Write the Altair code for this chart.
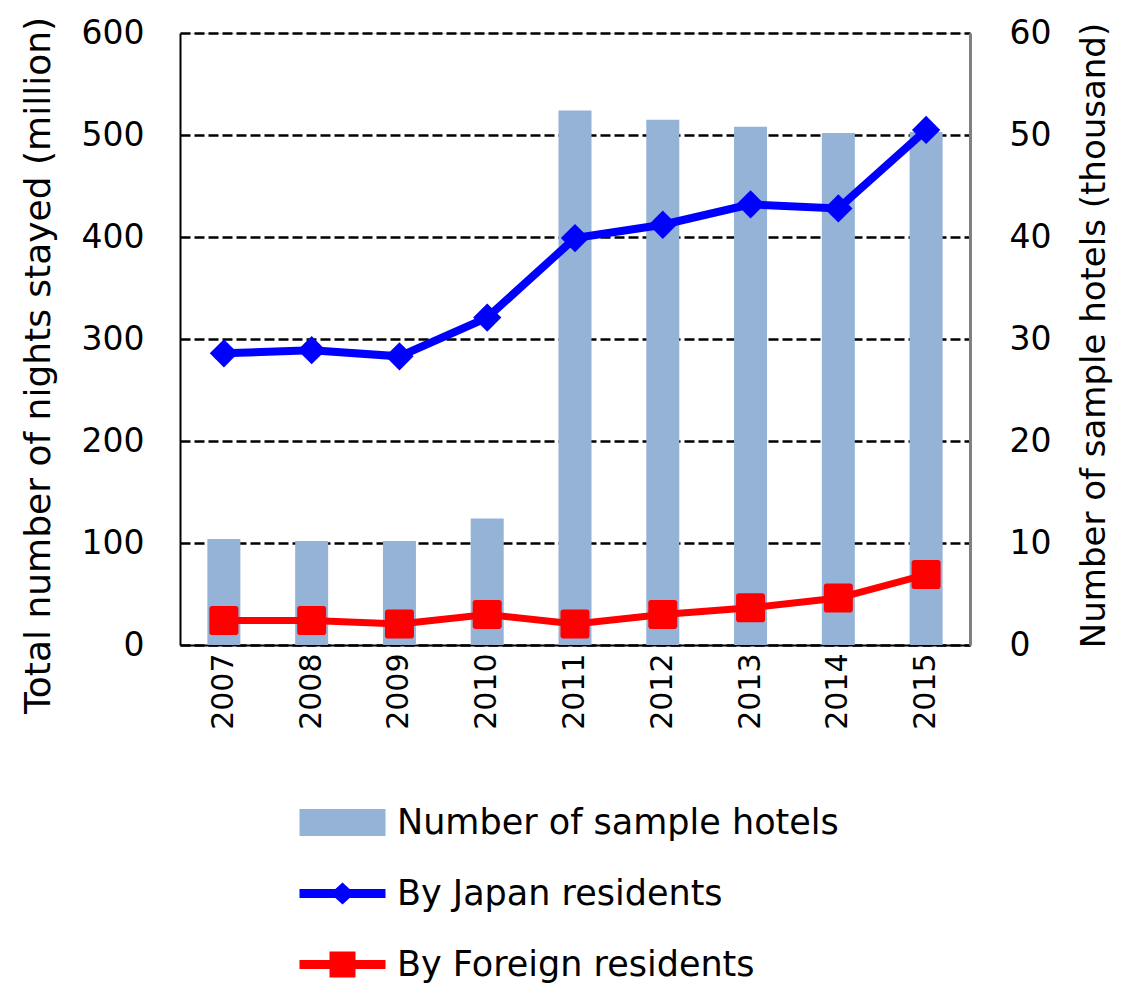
import altair as alt
import pandas as pd

years = ["2007", "2008", "2009", "2010", "2011", "2012", "2013", "2014", "2015"]
hotels = [10.4, 10.2, 10.2, 12.4, 52.4, 51.5, 50.8, 50.2, 50.3]
japan = [286, 289, 283, 321, 399, 412, 432, 428, 505]
foreign = [24, 24, 20.5, 30, 20.5, 30, 36.5, 46, 69]

legend_names = ["Number of sample hotels", "By Japan residents", "By Foreign residents"]
legend_colors = ["#95B3D7", "#0000FF", "#FF0000"]
legend_paths = [
    "M-4.3,-1.35H4.3V1.35H-4.3Z",
    "M-4.3,-0.45L-0.71,-0.45L0,-1.1L0.71,-0.45L4.3,-0.45L4.3,0.45L0.71,0.45L0,1.1L-0.71,0.45L-4.3,0.45Z",
    "M-4.3,-0.45L-1.3,-0.45L-1.3,-1.3L1.3,-1.3L1.3,-0.45L4.3,-0.45L4.3,0.45L1.3,0.45L1.3,1.3L-1.3,1.3L-1.3,0.45L-4.3,0.45Z",
]
rounded_square = ("M-0.82,-1H0.82A0.18,0.18 0 0 1 1,-0.82V0.82A0.18,0.18 0 0 1 0.82,1"
                  "H-0.82A0.18,0.18 0 0 1 -1,0.82V-0.82A0.18,0.18 0 0 1 -0.82,-1Z")

df = pd.DataFrame({"year": years, "hotels": hotels, "japan": japan, "foreign": foreign})
df_leg = pd.DataFrame({"name": legend_names})

FONT = "DejaVu Sans"

x_enc = alt.X(
    "year:O",
    title=None,
    scale=alt.Scale(paddingInner=0, paddingOuter=0),
    axis=alt.Axis(
        labelAngle=270, labelAlign="right", labelBaseline="middle",
        labelPadding=8, ticks=False, labelFontSize=30, labelFont=FONT,
        labelColor="black", domainColor="black", domainWidth=2,
    ),
)

left_axis = alt.Axis(
    orient="left", values=[0, 100, 200, 300, 400, 500, 600],
    grid=True, gridDash=[10, 4], gridColor="black", gridWidth=2.5, gridOpacity=1,
    ticks=False, labelPadding=36, labelFontSize=33, labelFont=FONT, labelColor="black",
    domainColor="black", domainWidth=2,
    title="Total number of nights stayed (million)", titleFont=FONT, titleFontSize=36,
    titleFontWeight="normal", titleColor="black", titleAngle=270,
    titleX=-142, titleY=332, titleAlign="center", titleBaseline="middle",
)

right_axis = alt.Axis(
    orient="right", values=[0, 10, 20, 30, 40, 50, 60],
    grid=False, ticks=False, labelPadding=39, labelFontSize=33, labelFont=FONT,
    labelColor="black", domainColor="#808080", domainWidth=3,
    title="Number of sample hotels (thousand)", titleFont=FONT, titleFontSize=34,
    titleFontWeight="normal", titleColor="black", titleAngle=270,
    titleX=124, titleY=302, titleAlign="center", titleBaseline="middle",
)

base = alt.Chart(df)

bars = base.mark_bar(size=33, color="#95B3D7").encode(
    x=x_enc,
    y=alt.Y("hotels:Q", scale=alt.Scale(domain=[0, 60], nice=False), axis=right_axis),
)

y_left = alt.Y("japan:Q", scale=alt.Scale(domain=[0, 600], nice=False), axis=left_axis)

jp_line = base.mark_line(color="#0000FF", strokeWidth=8).encode(x=x_enc, y=y_left)
jp_pts = base.mark_point(shape="diamond", size=800, filled=True, color="#0000FF",
                         opacity=1, strokeWidth=0).encode(
    x=x_enc, y=alt.Y("japan:Q", scale=alt.Scale(domain=[0, 600], nice=False), axis=left_axis))
fr_line = base.mark_line(color="#FF0000", strokeWidth=7).encode(
    x=x_enc, y=alt.Y("foreign:Q", scale=alt.Scale(domain=[0, 600], nice=False), axis=left_axis))
fr_pts = base.mark_point(shape=rounded_square, size=841, filled=True, color="#FF0000",
                         opacity=1, strokeWidth=0).encode(
    x=x_enc, y=alt.Y("foreign:Q", scale=alt.Scale(domain=[0, 600], nice=False), axis=left_axis))

lines = alt.layer(jp_line, fr_line, jp_pts, fr_pts)

leg = alt.Legend(
    title=None, orient="none", legendX=145, legendY=772, direction="vertical",
    labelFont=FONT, labelFontSize=35, labelColor="black", symbolSize=400,
    symbolOpacity=1, symbolStrokeWidth=0, rowPadding=35, labelOffset=37, padding=0,
    labelLimit=700,
)

dummy = alt.Chart(df_leg).mark_point(filled=True, opacity=0).encode(
    color=alt.Color("name:N", scale=alt.Scale(domain=legend_names, range=legend_colors), legend=leg),
    shape=alt.Shape("name:N", scale=alt.Scale(domain=legend_names, range=legend_paths), legend=leg),
)

chart = alt.layer(bars, lines, dummy).resolve_scale(y="independent").properties(
    width=790, height=612,
    autosize=alt.AutoSizeParams(type="none"),
    padding={"left": 172, "top": 25, "right": 143, "bottom": 344},
).configure_view(stroke="black", strokeWidth=2).configure(background="white")

chart.save("out.html", embed_options={"renderer": "svg", "actions": False})
